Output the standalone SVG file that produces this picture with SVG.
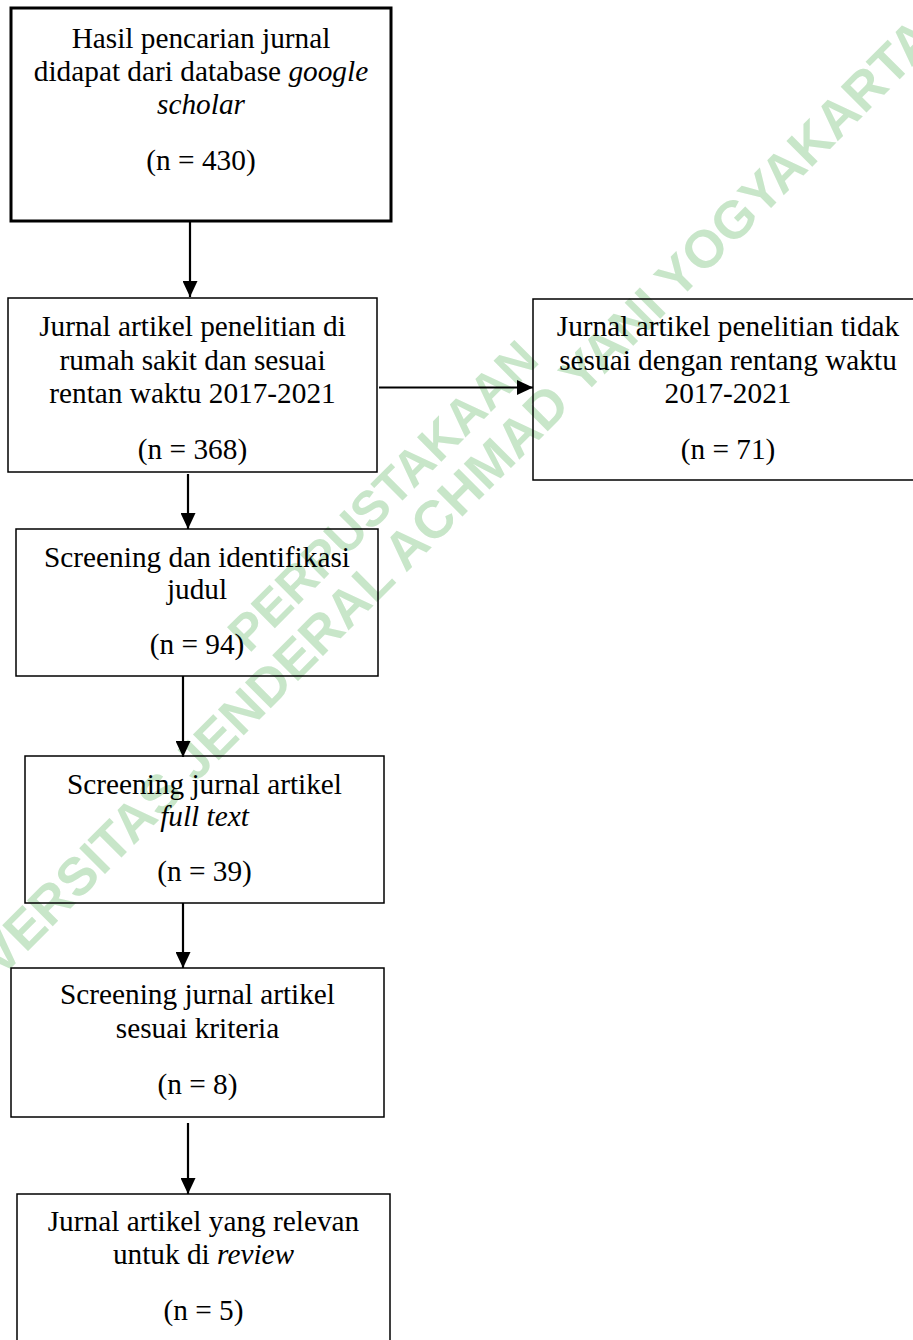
<svg xmlns="http://www.w3.org/2000/svg" width="913" height="1340" viewBox="0 0 913 1340">
<defs>
<marker id="ah" markerUnits="userSpaceOnUse" markerWidth="16" markerHeight="15" viewBox="0 0 16 15" refX="16" refY="7.5" orient="auto">
<path d="M0,0 L16,7.5 L0,15 Z" fill="#000"/>
</marker>
</defs>
<style>
.box{fill:none;stroke:#000;stroke-width:1.5}
.thick{stroke-width:3}
.t{font-family:"Liberation Serif","Times New Roman",serif;font-size:29.3px;fill:#000;text-anchor:middle}
.i{font-style:italic}
.wm{font-family:"Liberation Sans",Arial,sans-serif;font-weight:bold;fill:#c8e6c9;text-anchor:middle}
.c{stroke:#000;stroke-width:2.2;fill:none}
</style>
<rect width="913" height="1340" fill="#fff"/>
<g id="watermark">
<text class="wm" font-size="53" transform="translate(437,542) rotate(-45)">UNIVERSITAS JENDERAL ACHMAD YANI YOGYAKARTA</text>
<text class="wm" font-size="50" transform="translate(395,508) rotate(-45)">PERPUSTAKAAN</text>
</g>
<g id="connectors">
<path class="c" d="M190,221 L190,297" marker-end="url(#ah)"/>
<path class="c" d="M379,387.5 L533,387.5" marker-end="url(#ah)"/>
<path class="c" d="M188,474 L188,529" marker-end="url(#ah)"/>
<path class="c" d="M183,676 L183,757" marker-end="url(#ah)"/>
<path class="c" d="M183,903 L183,968" marker-end="url(#ah)"/>
<path class="c" d="M188,1123 L188,1194" marker-end="url(#ah)"/>
</g>
<g id="n1">
<rect class="box thick" x="11" y="8" width="380" height="213"/>
<text class="t" x="201" y="48">Hasil pencarian jurnal</text>
<text class="t" x="201" y="81">didapat dari database <tspan class="i">google</tspan></text>
<text class="t i" x="201" y="114">scholar</text>
<text class="t" x="201" y="170">(n = 430)</text>
</g>
<g id="n2">
<rect class="box" x="8" y="298" width="369" height="174"/>
<text class="t" x="192.5" y="336">Jurnal artikel penelitian di</text>
<text class="t" x="192.5" y="370">rumah sakit dan sesuai</text>
<text class="t" x="192.5" y="403">rentan waktu 2017-2021</text>
<text class="t" x="192.5" y="459">(n = 368)</text>
</g>
<g id="n3">
<rect class="box" x="533" y="299" width="395" height="181"/>
<text class="t" x="728" y="336">Jurnal artikel penelitian tidak</text>
<text class="t" x="728" y="370">sesuai dengan rentang waktu</text>
<text class="t" x="728" y="403">2017-2021</text>
<text class="t" x="728" y="459">(n = 71)</text>
</g>
<g id="n4">
<rect class="box" x="16" y="529" width="362" height="147"/>
<text class="t" x="197" y="567">Screening dan identifikasi</text>
<text class="t" x="197" y="599">judul</text>
<text class="t" x="197" y="654">(n = 94)</text>
</g>
<g id="n5">
<rect class="box" x="25" y="756" width="359" height="147"/>
<text class="t" x="204.5" y="794">Screening jurnal artikel</text>
<text class="t i" x="204.5" y="826">full text</text>
<text class="t" x="204.5" y="881">(n = 39)</text>
</g>
<g id="n6">
<rect class="box" x="11" y="968" width="373" height="149"/>
<text class="t" x="197.5" y="1004">Screening jurnal artikel</text>
<text class="t" x="197.5" y="1038">sesuai kriteria</text>
<text class="t" x="197.5" y="1094">(n = 8)</text>
</g>
<g id="n7">
<rect class="box" x="17" y="1194" width="373" height="160"/>
<text class="t" x="203.5" y="1231">Jurnal artikel yang relevan</text>
<text class="t" x="203.5" y="1264">untuk di <tspan class="i">review</tspan></text>
<text class="t" x="203.5" y="1320">(n = 5)</text>
</g>
</svg>
